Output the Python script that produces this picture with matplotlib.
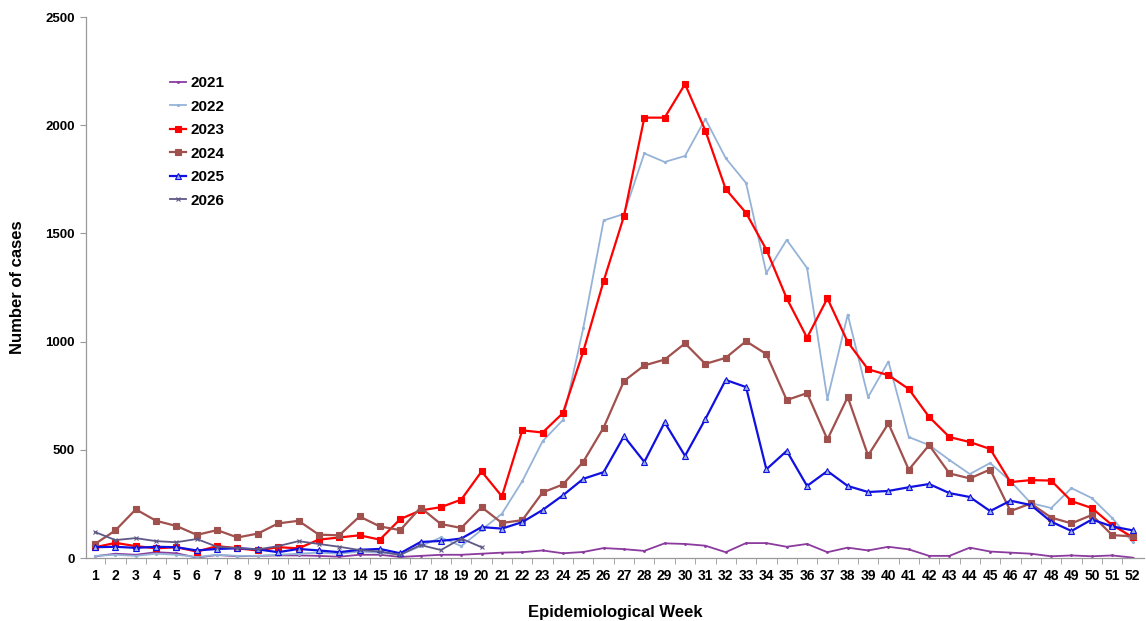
import numpy as np
import matplotlib.pyplot as plt

plt.rcParams['font.family'] = ['Liberation Sans', 'DejaVu Sans']
plt.rcParams['font.weight'] = 'bold'

weeks = np.arange(1, 53)

cases_2021 = [8, 20, 15, 27, 22, 2, 14, 8, 10, 12, 12, 10, 6, 15, 15, 5, 10, 15, 15, 20,
              25, 27, 35, 22, 28, 46, 41, 33, 68, 65, 57, 27, 69, 69, 52, 65, 27, 48, 35, 52,
              40, 10, 10, 48, 30, 25, 20, 8, 12, 8, 12, 2]
cases_2022 = [10, 15, 10, 20, 15, 5, 15, 10, 10, 15, 20, 25, 20, 30, 25, 15, 55, 95, 55, 130,
              205, 355, 540, 638, 1063, 1560, 1590, 1870, 1830, 1858, 2029, 1848, 1733, 1317, 1470, 1340, 735, 1125, 744, 908,
              559, 522, 453, 388, 439, 355, 254, 231, 323, 277, 185, 74]
cases_2023 = [50, 70, 55, 45, 50, 30, 55, 45, 35, 50, 45, 85, 95, 105, 85, 180, 220, 235, 270, 400,
              285, 590, 580, 670, 955, 1280, 1580, 2035, 2035, 2190, 1975, 1705, 1595, 1425, 1200, 1018, 1200, 998, 872, 845,
              781, 652, 559, 536, 504, 351, 360, 358, 263, 231, 152, 97]
cases_2024 = [65, 128, 225, 172, 148, 107, 129, 95, 113, 160, 172, 108, 105, 192, 146, 129, 233, 157, 139, 235,
              162, 175, 303, 340, 445, 603, 818, 890, 917, 992, 897, 925, 1002, 942, 730, 762, 548, 744, 474, 622,
              408, 522, 391, 368, 409, 217, 252, 187, 160, 199, 106, 100]
cases_2025 = [50, 52, 47, 52, 50, 35, 42, 45, 40, 27, 42, 35, 27, 38, 42, 22, 74, 79, 90, 143,
              136, 166, 222, 290, 366, 397, 563, 444, 627, 472, 642, 823, 790, 410, 495, 333, 402, 333, 305, 310,
              327, 342, 300, 282, 217, 265, 245, 168, 125, 178, 146, 128]
cases_2026 = [120, 83, 92, 78, 73, 88, 52, 46, 40, 55, 78, 65, 52, 37, 30, 15, 60, 37, 90, 50]

series = [
    ('2021', cases_2021, '#8B3A9E', '.', 2.5, 1.3),
    ('2022', cases_2022, '#95B3D7', '.', 3, 1.3),
    ('2023', cases_2023, '#FF0000', 's', 5, 1.6),
    ('2024', cases_2024, '#A0504D', 's', 5, 1.6),
    ('2025', cases_2025, '#1010E0', '^', 4, 1.6),
    ('2026', cases_2026, '#5E5887', 'x', 3.5, 1.3),
]

fig = plt.figure(figsize=(11.46, 6.21), dpi=100)
ax = fig.add_axes([0.075, 0.1014, 0.923, 0.8712])

for name, vals, col, mk, ms, lw in series:
    x = weeks[:len(vals)]
    mfc = '#9DB4E0' if mk == '^' else col
    ax.plot(x, vals, color=col, marker=mk, markersize=ms, linewidth=lw,
            markerfacecolor=mfc, markeredgecolor=col, markeredgewidth=0.8, label=name)

ax.set_xlim(0.55, 52.55)
ax.set_ylim(0, 2500)
ax.set_xticks(weeks)
ax.set_xticklabels([str(w) for w in weeks], fontsize=10, fontweight='bold')
ax.xaxis.set_minor_locator(plt.FixedLocator(np.arange(1.5, 52.5, 1)))
ax.tick_params(axis='x', which='major', length=0, pad=8)
ax.tick_params(axis='x', which='minor', length=4, color='#999999', direction='out')
ax.set_yticks([0, 500, 1000, 1500, 2000, 2500])
ax.tick_params(axis='y', length=4, color='#999999', labelsize=9.5, pad=4)
for lab in ax.get_yticklabels():
    lab.set_fontweight('bold')

for s in ['top', 'right']:
    ax.spines[s].set_visible(False)
for s in ['left', 'bottom']:
    ax.spines[s].set_color('#999999')
    ax.spines[s].set_linewidth(0.9)

ax.set_ylabel('Number of cases', fontsize=12, fontweight='bold', labelpad=15)
ax.set_xlabel('Epidemiological Week', fontsize=12, fontweight='bold', labelpad=16)

leg = ax.legend(loc='upper left', bbox_to_anchor=(0.066, 0.916), frameon=False,
                handlelength=1.1, handletextpad=0.3, labelspacing=0.62,
                prop={'weight': 'bold', 'size': 11})

fig.savefig('out.png', dpi=100)
